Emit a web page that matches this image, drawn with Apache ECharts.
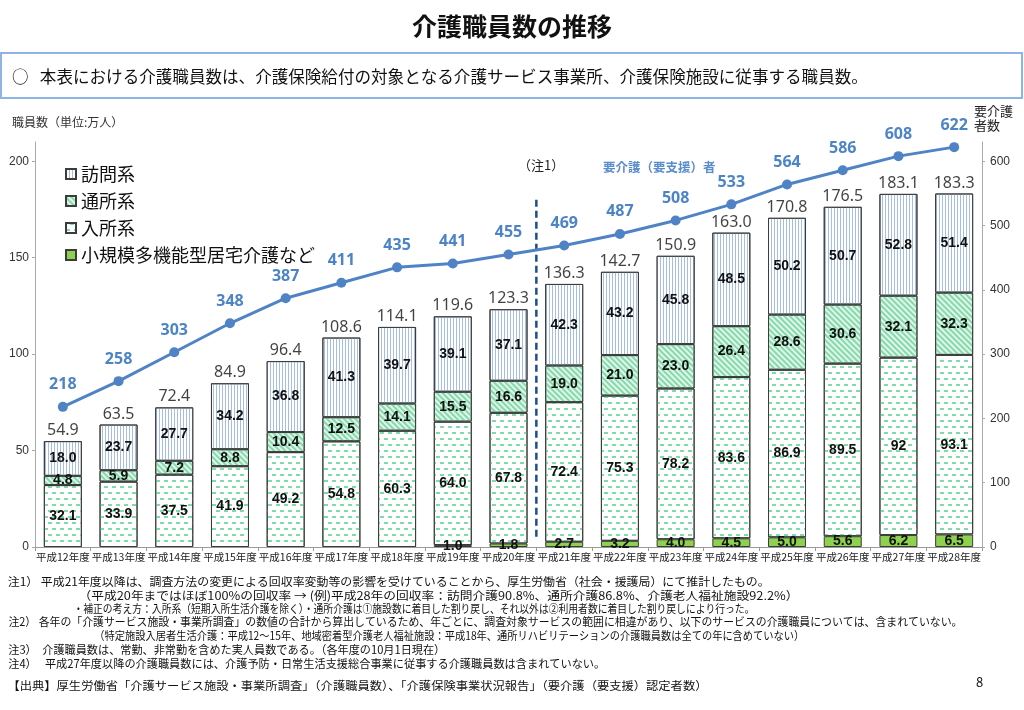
<!DOCTYPE html>
<html><head><meta charset="utf-8">
<script src="https://cdn.jsdelivr.net/npm/echarts@6/dist/echarts.min.js"></script>
<style>html,body{margin:0;padding:0;background:#fff}#c{width:1024px;height:710px}</style>
</head><body><div id="c"></div>
<script>
const years = ['平成12年度','平成13年度','平成14年度','平成15年度','平成16年度','平成17年度','平成18年度','平成19年度','平成20年度','平成21年度','平成22年度','平成23年度','平成24年度','平成25年度','平成26年度','平成27年度','平成28年度'];
const shokibo = [null,null,null,null,null,null,null,1.0,1.8,2.7,3.2,4.0,4.5,5.0,5.6,6.2,6.5];
const nyusho = ['32.1','33.9','37.5','41.9','49.2','54.8','60.3','64.0','67.8','72.4','75.3','78.2','83.6','86.9','89.5','92','93.1'];
const tsusho = [4.8,5.9,7.2,8.8,10.4,12.5,14.1,15.5,16.6,19.0,21.0,23.0,26.4,28.6,30.6,32.1,32.3];
const homon = [18.0,23.7,27.7,34.2,36.8,41.3,39.7,39.1,37.1,42.3,43.2,45.8,48.5,50.2,50.7,52.8,51.4];
const totals = [54.9,63.5,72.4,84.9,96.4,108.6,114.1,119.6,123.3,136.3,142.7,150.9,163.0,170.8,176.5,183.1,183.3];
const youkaigo = [218,258,303,348,387,411,435,441,455,469,487,508,533,564,586,608,622];
const leftTicks = {min:0, max:210, interval:50};
const rightTicks = {min:0, max:630, interval:100};

const CJK = '"Noto Sans CJK JP", "Noto Sans", sans-serif';
const border = {borderColor:'#3c3c3c', borderWidth:1};
const inLabel = {show:true, position:'inside', fontFamily:'"Liberation Sans", Arial, sans-serif', fontWeight:'bold', fontSize:14, color:'#111',
  formatter: p => (p.value==null||p.value==='') ? '' : (typeof p.value === 'string' ? p.value : Number(p.value).toFixed(1))};

const mctx = document.createElement('canvas').getContext('2d');
function fitText(x, y, text, font, endX, color) {
  mctx.font = font;
  const w = mctx.measureText(text).width;
  const s = (endX - x) / w;
  return {type:'text', x:x, y:y, scaleX:s, originX:x, originY:y, style:{text:text, font:font, fill:color||'#111', verticalAlign:'middle'}};
}

const chart = echarts.init(document.getElementById('c'));
const foot = [
 [8,582,770,'注1） 平成21年度以降は、調査方法の変更による回収率変動等の影響を受けていることから、厚生労働省（社会・援護局）にて推計したもの。'],
 [88,596,808,'（平成20年まではほぼ100%の回収率 → (例)平成28年の回収率：訪問介護90.8%、通所介護86.8%、介護老人福祉施設92.2%）'],
 [64,609,745,'・補正の考え方：入所系（短期入所生活介護を除く）・通所介護は①施設数に着目した割り戻し、それ以外は②利用者数に着目した割り戻しにより行った。'],
 [8,622,962,'注2） 各年の「介護サービス施設・事業所調査」の数値の合計から算出しているため、年ごとに、調査対象サービスの範囲に相違があり、以下のサービスの介護職員については、含まれていない。'],
 [85,636,795,'（特定施設入居者生活介護：平成12～15年、地域密着型介護老人福祉施設：平成18年、通所リハビリテーションの介護職員数は全ての年に含めていない）'],
 [8,650,445,'注3）　介護職員数は、常勤、非常勤を含めた実人員数である。（各年度の10月1日現在）'],
 [8,664,605,'注4）　 平成27年度以降の介護職員数には、介護予防・日常生活支援総合事業に従事する介護職員数は含まれていない。'],
 [8,686,708,'【出典】厚生労働省「介護サービス施設・事業所調査」（介護職員数）、「介護保険事業状況報告」（要介護（要支援）認定者数）']
];
const graphics = [
 {type:'text', left:'center', top:14, style:{text:'介護職員数の推移', font:'bold 25px '+CJK, fill:'#111'}},
 {type:'rect', shape:{x:1,y:53,width:1021,height:45}, style:{fill:'none', stroke:'#8eb4e3', lineWidth:2}},
 {type:'text', x:12, y:77, style:{text:'○', font:'16.5px '+CJK, fill:'#111', verticalAlign:'middle'}},
 fitText(40, 77, '本表における介護職員数は、介護保険給付の対象となる介護サービス事業所、介護保険施設に従事する職員数。', '16.5px '+CJK, 868),
 {type:'text', x:12, y:122, style:{text:'職員数（単位:万人）', font:'12px '+CJK, fill:'#333', verticalAlign:'middle'}},
 {type:'text', x:974, y:118, style:{text:'要介護\n者数', font:'13px '+CJK, fill:'#222', lineHeight:14, verticalAlign:'middle'}},
 {type:'text', x:518, y:165, style:{text:'（注1）', font:'13px '+CJK, fill:'#222', verticalAlign:'middle'}},
 {type:'text', x:603, y:167, style:{text:'要介護（要支援）者', font:'bold 12.5px '+CJK, fill:'#5a8dcc', verticalAlign:'middle'}},
 {type:'text', x:976, y:682, style:{text:'8', font:'13px '+CJK, fill:'#111', verticalAlign:'middle'}}
];
foot.forEach(f=>graphics.push(fitText(f[0], f[1], f[3], '11.5px '+CJK, f[2])));

const option = {
 animation:false,
 textStyle:{fontFamily:CJK},
 grid:{left:35, right:42, top:142, bottom:163},
 legend:{data:['訪問系','通所系','入所系','小規模多機能型居宅介護など'], orient:'vertical', left:60, top:160, icon:'rect', itemWidth:10, itemHeight:10, itemGap:9,
   textStyle:{fontSize:18, color:'#111', fontFamily:CJK}},
 xAxis:{type:'category', data:years, axisLine:{lineStyle:{color:'#9a9a9a'}}, axisTick:{show:true, length:4, lineStyle:{color:'#9a9a9a'}},
   axisLabel:{interval:0, fontSize:10.5, color:'#222', margin:5, fontFamily:CJK}},
 yAxis:[
  {type:'value', min:leftTicks.min, max:leftTicks.max, interval:leftTicks.interval, splitLine:{show:false},
   axisLine:{show:true, lineStyle:{color:'#aaa'}}, axisTick:{show:true, length:3, lineStyle:{color:'#aaa'}},
   axisLabel:{fontSize:12, color:'#333', margin:6, showMaxLabel:false, fontFamily:'"Liberation Sans", Arial, sans-serif'}},
  {type:'value', min:rightTicks.min, max:rightTicks.max, interval:rightTicks.interval, position:'right', splitLine:{show:false},
   axisLine:{show:true, lineStyle:{color:'#aaa'}}, axisTick:{show:true, length:3, lineStyle:{color:'#aaa'}},
   axisLabel:{fontSize:12, color:'#333', margin:8, showMaxLabel:false, fontFamily:'"Liberation Sans", Arial, sans-serif'}}
 ],
 series:[
  {name:'小規模多機能型居宅介護など', type:'bar', stack:'a', barWidth:38, data:shokibo,
   itemStyle:Object.assign({color:'#8dd14e'}, border), label:inLabel},
  {name:'入所系', type:'bar', stack:'a', barWidth:38, data:nyusho,
   itemStyle:Object.assign({color:'#ffffff', decal:{symbol:'rect', color:'#7fdcaa', dashArrayX:[[4,4],[0,4,4,0]], dashArrayY:[1.4,3.6], symbolSize:1}}, border), label:inLabel},
  {name:'通所系', type:'bar', stack:'a', barWidth:38, data:tsusho,
   itemStyle:Object.assign({color:'#dff6e9', decal:{symbol:'rect', color:'#86d9ac', dashArrayX:[1,0], dashArrayY:[1.3,2], rotation:Math.PI/4, symbolSize:1}}, border), label:inLabel},
  {name:'訪問系', type:'bar', stack:'a', barWidth:38, data:homon,
   itemStyle:Object.assign({color:'#ffffff', decal:{symbol:'rect', color:'#a6bee4', dashArrayX:[1,2], dashArrayY:[1,0], symbolSize:1}}, border), label:inLabel},
  {name:'合計', type:'scatter', data:totals, symbolSize:1, itemStyle:{color:'rgba(0,0,0,0)'}, z:5,
   label:{show:true, position:'top', distance:2, fontSize:16, color:'#111', fontFamily:'"Noto Sans", sans-serif', formatter:p=>p.value.toFixed(1)}},
  {name:'要介護（要支援）者', type:'line', yAxisIndex:1, data:youkaigo, z:6, symbol:'circle', symbolSize:10,
   itemStyle:{color:'#4f83c6'}, lineStyle:{color:'#4f83c6', width:3},
   label:{show:true, position:'top', distance:9, fontSize:16, fontWeight:'bold', color:'#4d84c8', fontFamily:'"Noto Sans", sans-serif'}}
 ],
 graphic:graphics
};
chart.setOption(option);
const x8 = chart.convertToPixel({xAxisIndex:0}, years[8]);
const x9 = chart.convertToPixel({xAxisIndex:0}, years[9]);
const yTop = chart.convertToPixel({yAxisIndex:0}, 180);
const yBot = chart.convertToPixel({yAxisIndex:0}, 3.5);
graphics.push({type:'line', shape:{x1:(x8+x9)/2, y1:yTop, x2:(x8+x9)/2, y2:yBot}, style:{stroke:'#1f4e8c', lineWidth:2.5, lineDash:[7,4]}, z:4});
chart.setOption({graphic:graphics});
</script></body></html>
